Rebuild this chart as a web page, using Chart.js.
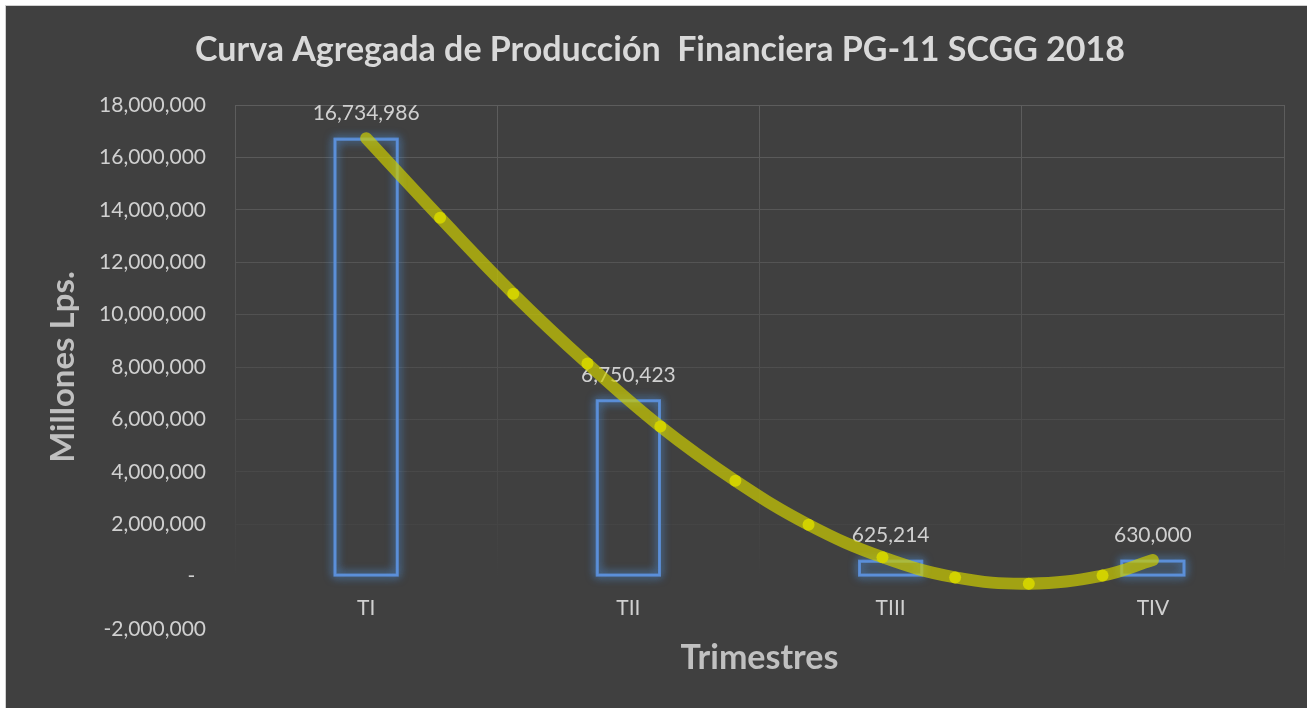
<!DOCTYPE html>
<html>
<head>
<meta charset="utf-8">
<title>Curva Agregada de Producción Financiera</title>
<script src="https://cdn.jsdelivr.net/npm/chart.js@4.4.1/dist/chart.umd.min.js"></script>
<style>
  html, body { margin: 0; padding: 0; background: #ffffff; }
  #frame {
    position: absolute; left: 5px; top: 5px;
    width: 1301px; height: 702px;
    border: 1px solid #d0d0d0; background: #404040;
  }
  #chart { display: block; }
</style>
</head>
<body>
<div id="frame"><canvas id="chart" width="1301" height="702"></canvas></div>
<script>
var quarters = ["TI", "TII", "TIII", "TIV"];
var production = [16734986, 6750423, 625214, 630000];

// smoothed curve, points (x in quarter units, 0 = TI)
var curveX = [0, 0.282, 0.561, 0.844, 1.122, 1.408, 1.687, 1.969, 2.246, 2.527, 2.808, 3];
var curveY = [16734986, 13700000, 10800000, 8130000, 5730000, 3660000,
  1980000, 740000, -30000, -270000, 40000, 630000];

var yMin = -2000000;
var yMax = 18000000;
var yStep = 2000000;

var FONT = "Lato";
var tickColor = "#d0d0d0";
var titleColor = "#d9d9d9";
var axisTitleColor = "#c0c0c0";
var barColor = "#5b8fd9";

function fadeGradient(chart) {
  var area = chart.chartArea;
  if (!area) {
    return "#555555";
  }
  var y0 = chart.scales.y.getPixelForValue(0);
  var g = chart.ctx.createLinearGradient(0, area.top, 0, y0);
  g.addColorStop(0, "#5d5d5d");
  g.addColorStop(0.8, "#484848");
  g.addColorStop(1, "#404040");
  return g;
}

function yGridColor(ctx) {
  if (!ctx.tick || ctx.tick.value <= 0) {
    return "rgba(0,0,0,0)";
  }
  return fadeGradient(ctx.chart);
}

function xGridColor(ctx) {
  return fadeGradient(ctx.chart);
}

function formatTick(v) {
  if (v === 0) {
    return "-  ";
  }
  return v.toLocaleString("en-US");
}

var barGlow = {
  id: "barGlow",
  beforeDatasetDraw: function (chart, args) {
    if (args.index !== 0) {
      return;
    }
    var ctx = chart.ctx;
    ctx.save();
    ctx.shadowColor = "rgba(80, 150, 230, 1)";
    ctx.shadowBlur = 10;
    ctx.strokeStyle = "rgba(91, 143, 217, 0.6)";
    ctx.lineWidth = 3;
    args.meta.data.forEach(function (bar) {
      var p = bar.getProps(["x", "y", "base", "width"], true);
      var l = p.x - p.width / 2 + 1;
      var h = p.base - p.y - 2;
      ctx.strokeRect(l, p.y + 1, p.width - 2, h);
      ctx.strokeRect(l, p.y + 1, p.width - 2, h);
    });
    ctx.restore();
  },
  afterDatasetDraw: function (chart, args) {
    if (args.index !== 0) {
      return;
    }
    var ctx = chart.ctx;
    ctx.save();
    ctx.font = "21px " + FONT;
    ctx.fillStyle = tickColor;
    ctx.textAlign = "center";
    ctx.textBaseline = "middle";
    args.meta.data.forEach(function (bar, i) {
      ctx.fillText(production[i].toLocaleString("en-US"), bar.x, bar.y - 25);
    });
    ctx.restore();
  },
};

function buildChart() {
  var curve = curveX.map(function (x, i) {
    return { x: x, y: curveY[i] };
  });
  var radii = curveX.map(function (x, i) {
    return i === 0 || i === curveX.length - 1 ? 0 : 6;
  });

  new Chart(document.getElementById("chart"), {
    type: "bar",
    data: {
      labels: quarters,
      datasets: [
        {
          type: "bar",
          data: production,
          backgroundColor: "rgba(0,0,0,0)",
          borderColor: barColor,
          borderWidth: 2,
          borderSkipped: false,
          grouped: false,
          barPercentage: 0.245,
          categoryPercentage: 1,
          order: 2,
        },
        {
          type: "line",
          xAxisID: "x2",
          yAxisID: "y",
          data: curve,
          borderColor: "rgba(204, 204, 0, 0.7)",
          borderWidth: 12,
          borderCapStyle: "round",
          borderJoinStyle: "round",
          tension: 0.4,
          fill: false,
          pointRadius: radii,
          pointBackgroundColor: "#d2d200",
          pointBorderWidth: 0,
          order: 1,
        },
      ],
    },
    options: {
      responsive: false,
      animation: false,
      layout: { padding: { left: 30, right: 23, top: 0, bottom: 0 } },
      plugins: {
        legend: { display: false },
        tooltip: { enabled: false },
        title: {
          display: true,
          text: "Curva Agregada de Producción  Financiera PG-11 SCGG 2018",
          color: titleColor,
          font: { family: FONT, size: 34, weight: "bold" },
          padding: { top: 23.6, bottom: 34.6 },
        },
        subtitle: {
          display: true,
          position: "bottom",
          fullSize: false,
          text: "Trimestres",
          color: axisTitleColor,
          font: { family: FONT, size: 34, weight: "bold" },
          padding: { top: 9.1, bottom: 29.1 },
        },
      },
      scales: {
        x: {
          type: "category",
          position: { y: 0 },
          offset: true,
          grid: { color: xGridColor, offset: true, drawTicks: false, lineWidth: 1 },
          border: { display: false },
          ticks: {
            color: tickColor,
            font: { family: FONT, size: 21 },
            padding: 19,
          },
        },
        x2: {
          type: "linear",
          position: { y: 0 },
          offset: false,
          min: -0.5,
          max: 3.5,
          grid: { display: false, offset: false, drawTicks: false },
          border: { display: false },
          ticks: { display: false },
        },
        y: {
          position: "left",
          min: yMin,
          max: yMax,
          grid: { color: yGridColor, drawTicks: false, lineWidth: 1 },
          border: { display: false },
          ticks: {
            stepSize: yStep,
            color: tickColor,
            font: { family: FONT, size: 21 },
            padding: 29,
            callback: formatTick,
          },
          title: {
            display: true,
            text: "Millones Lps.",
            color: axisTitleColor,
            font: { family: FONT, size: 33, weight: "bold" },
            padding: { top: 7.7, bottom: 0 },
          },
          afterFit: function (scale) {
            scale.width = 199;
          },
        },
      },
    },
    plugins: [barGlow],
  });
}

if (document.fonts && document.fonts.load) {
  Promise.all([
    document.fonts.load("21px " + FONT),
    document.fonts.load("bold 34px " + FONT),
  ]).then(buildChart, buildChart);
} else {
  buildChart();
}
</script>
</body>
</html>
